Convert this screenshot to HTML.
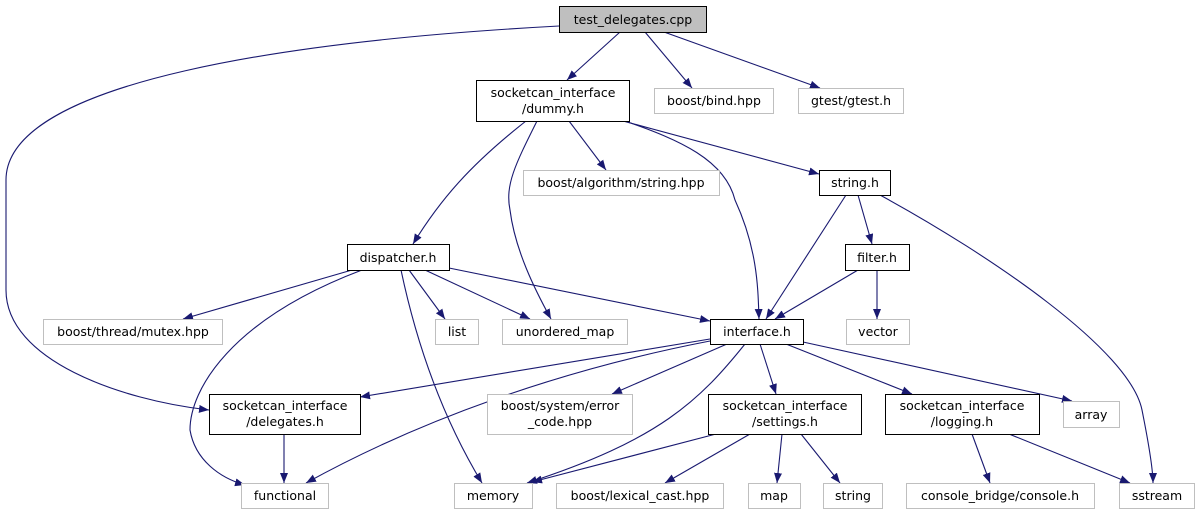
<!DOCTYPE html>
<html><head><meta charset="utf-8"><style>
html,body{margin:0;padding:0;background:#fff;}
svg{display:block;}
text{font-family:"DejaVu Sans","Liberation Sans",sans-serif;font-size:12.5px;fill:#000;}
</style></head><body>
<svg width="1196" height="515" viewBox="0 0 1196 515" xmlns="http://www.w3.org/2000/svg">
<defs>
<marker id="a" markerWidth="10" markerHeight="8" refX="10" refY="4" orient="auto" markerUnits="userSpaceOnUse">
<path d="M0,0 L10,4 L0,8 z" fill="#191970"/>
</marker>
</defs>
<g fill="none" stroke="#191970" stroke-width="1.1" marker-end="url(#a)">
<path d="M559,26 C300,40 6,80 6,180 L6,290 C6,360 120,400 209,410"/>
<path d="M620,32 L567,80"/>
<path d="M645,32 L692,88"/>
<path d="M664,32 L820,88"/>
<path d="M569,121 L606,170"/>
<path d="M623,121 L819,174"/>
<path d="M526,121 C470,165 440,200 413,244"/>
<path d="M537,121 C515,165 505,185 510,210 C515,250 535,290 551,319"/>
<path d="M625,121 C680,140 725,160 735,200 C758,250 758,290 759,319"/>
<path d="M846,195 L766,319"/>
<path d="M858,195 L872,244"/>
<path d="M880,195 C990,255 1130,350 1142,410 C1150,450 1153,470 1153,483"/>
<path d="M858,270 L775,319"/>
<path d="M877,270 L877,319"/>
<path d="M352,270 L183,319"/>
<path d="M362,270 C230,320 190,390 190,430 C195,460 220,478 245,485"/>
<path d="M401,270 C420,360 450,430 482,483"/>
<path d="M409,270 L445,319"/>
<path d="M425,270 L530,319"/>
<path d="M449,268 L710,321"/>
<path d="M710,339 L360,397"/>
<path d="M710,341 C560,370 420,420 306,483"/>
<path d="M727,344 L612,394"/>
<path d="M745,344 C700,400 660,440 527,483"/>
<path d="M760,344 L776,394"/>
<path d="M786,344 L912,394"/>
<path d="M803,342 L1072,401"/>
<path d="M284,434 L284,483"/>
<path d="M716,434 L532,482"/>
<path d="M750,434 L665,483"/>
<path d="M782,434 L777,483"/>
<path d="M801,434 L840,483"/>
<path d="M972,434 L990,483"/>
<path d="M1009,434 L1130,483"/>
</g>
<g stroke-width="1">
<rect x="559.5" y="6.5" width="147" height="26" fill="#bfbfbf" stroke="#000"/>
<rect x="476.5" y="80.5" width="153" height="41" fill="#fff" stroke="#000"/>
<rect x="654.5" y="88.5" width="119" height="25" fill="#fff" stroke="#bfbfbf"/>
<rect x="798.5" y="88.5" width="105" height="25" fill="#fff" stroke="#bfbfbf"/>
<rect x="523.5" y="170.5" width="196" height="25" fill="#fff" stroke="#bfbfbf"/>
<rect x="819.5" y="170.5" width="71" height="25" fill="#fff" stroke="#000"/>
<rect x="845.5" y="244.5" width="64" height="26" fill="#fff" stroke="#000"/>
<rect x="347.5" y="244.5" width="102" height="26" fill="#fff" stroke="#000"/>
<rect x="43.5" y="319.5" width="179" height="25" fill="#fff" stroke="#bfbfbf"/>
<rect x="435.5" y="319.5" width="43" height="25" fill="#fff" stroke="#bfbfbf"/>
<rect x="502.5" y="319.5" width="125" height="25" fill="#fff" stroke="#bfbfbf"/>
<rect x="710.5" y="319.5" width="93" height="25" fill="#fff" stroke="#000"/>
<rect x="846.5" y="319.5" width="63" height="25" fill="#fff" stroke="#bfbfbf"/>
<rect x="209.5" y="394.5" width="151" height="40" fill="#fff" stroke="#000"/>
<rect x="487.5" y="394.5" width="145" height="40" fill="#fff" stroke="#bfbfbf"/>
<rect x="708.5" y="394.5" width="153" height="40" fill="#fff" stroke="#000"/>
<rect x="885.5" y="394.5" width="154" height="40" fill="#fff" stroke="#000"/>
<rect x="1063.5" y="401.5" width="56" height="26" fill="#fff" stroke="#bfbfbf"/>
<rect x="241.5" y="483.5" width="87" height="25" fill="#fff" stroke="#bfbfbf"/>
<rect x="454.5" y="483.5" width="78" height="25" fill="#fff" stroke="#bfbfbf"/>
<rect x="556.5" y="483.5" width="167" height="25" fill="#fff" stroke="#bfbfbf"/>
<rect x="748.5" y="483.5" width="52" height="25" fill="#fff" stroke="#bfbfbf"/>
<rect x="823.5" y="483.5" width="59" height="25" fill="#fff" stroke="#bfbfbf"/>
<rect x="906.5" y="483.5" width="188" height="25" fill="#fff" stroke="#bfbfbf"/>
<rect x="1119.5" y="483.5" width="75" height="25" fill="#fff" stroke="#bfbfbf"/>
</g>
<g text-anchor="middle">
<text x="633" y="24">test_delegates.cpp</text>
<text x="553" y="97">socketcan_interface</text>
<text x="553" y="113">/dummy.h</text>
<text x="714" y="105">boost/bind.hpp</text>
<text x="851" y="105">gtest/gtest.h</text>
<text x="621" y="187">boost/algorithm/string.hpp</text>
<text x="855" y="187">string.h</text>
<text x="877" y="262">filter.h</text>
<text x="398" y="262">dispatcher.h</text>
<text x="133" y="336">boost/thread/mutex.hpp</text>
<text x="457" y="336">list</text>
<text x="565" y="336">unordered_map</text>
<text x="757" y="336">interface.h</text>
<text x="878" y="336">vector</text>
<text x="285" y="410">socketcan_interface</text>
<text x="285" y="426">/delegates.h</text>
<text x="560" y="410">boost/system/error</text>
<text x="560" y="426">_code.hpp</text>
<text x="785" y="410">socketcan_interface</text>
<text x="785" y="426">/settings.h</text>
<text x="962" y="410">socketcan_interface</text>
<text x="962" y="426">/logging.h</text>
<text x="1091" y="419">array</text>
<text x="285" y="500">functional</text>
<text x="493" y="500">memory</text>
<text x="640" y="500">boost/lexical_cast.hpp</text>
<text x="774" y="500">map</text>
<text x="853" y="500">string</text>
<text x="1000" y="500">console_bridge/console.h</text>
<text x="1157" y="500">sstream</text>
</g>
</svg>
</body></html>
